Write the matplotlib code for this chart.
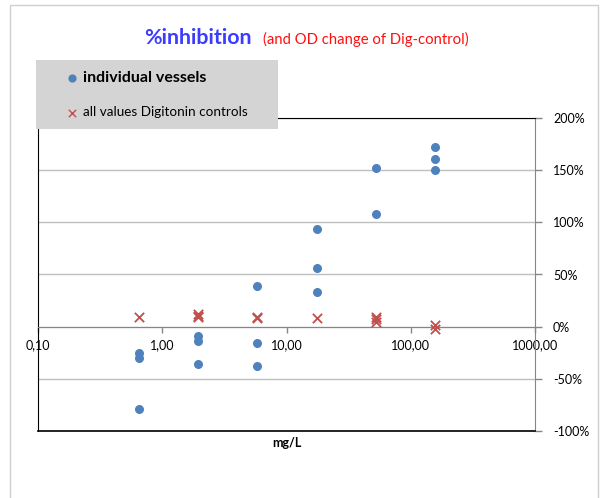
import matplotlib
matplotlib.use("Agg")
import matplotlib.pyplot as plt
from matplotlib.patches import Rectangle
from matplotlib.ticker import FixedLocator, FuncFormatter, NullLocator

plt.rcParams['font.family'] = ['Lato', 'DejaVu Sans']

# individual vessels: concentration (mg/L) and %inhibition
vessel_conc = [0.65, 0.65, 0.65, 1.94, 1.94, 1.94, 5.83, 5.83, 5.83,
               17.5, 17.5, 17.5, 52.5, 52.5, 157.5, 157.5, 157.5]
vessel_inhib = [-0.25, -0.30, -0.79, -0.09, -0.14, -0.36, 0.39, -0.16, -0.375,
                0.94, 0.56, 0.33, 1.52, 1.08, 1.72, 1.61, 1.50]

# Digitonin controls: OD change
ctrl_conc = [0.65, 1.94, 1.94, 1.94, 5.83, 5.83, 17.5, 52.5, 52.5, 52.5, 157.5, 157.5]
ctrl_od = [0.096, 0.12, 0.105, 0.09, 0.095, 0.085, 0.08, 0.095, 0.07, 0.045, 0.015, -0.02]

x_ticks = [0.1, 1, 10, 100, 1000]
y_ticks = [-1.0, -0.5, 0.0, 0.5, 1.0, 1.5, 2.0]

blue = "#4f81bd"
red = "#c0504d"
axis_gray = "#868686"
grid_gray = "#bfbfbf"

fig = plt.figure(figsize=(6.06, 4.98), dpi=100)
W, H = 606, 498

# chart area border
fig.patches.append(Rectangle((10 / W, -0.01), 588 / W, (498 - 5) / H + 0.01,
                             transform=fig.transFigure, fill=False,
                             edgecolor="#cfcfcf", linewidth=1.0))

ax = fig.add_axes([38 / W, 1 - 431 / H, (535 - 38) / W, (431 - 118) / H])

ax.scatter(vessel_conc, vessel_inhib, s=30, color=blue, zorder=4,
           label="individual vessels")
ax.scatter(ctrl_conc, ctrl_od, s=45, marker="x", color=red, linewidths=1.3,
           zorder=4, label="all values Digitonin controls")

ax.set_xscale("log")
ax.set_xlim(0.1, 1000)
ax.set_ylim(-1.0, 2.0)
ax.xaxis.set_major_locator(FixedLocator(x_ticks))
ax.xaxis.set_minor_locator(NullLocator())
ax.xaxis.set_major_formatter(FuncFormatter(lambda v, p: f"{v:.2f}".replace(".", ",")))
ax.yaxis.set_major_locator(FixedLocator(y_ticks))
ax.yaxis.set_major_formatter(FuncFormatter(lambda v, p: f"{int(round(v * 100))}%"))

ax.yaxis.tick_right()
ax.tick_params(axis="y", direction="out", length=5, width=1, color=axis_gray,
               pad=8, labelsize=9)
ax.tick_params(axis="x", direction="out", length=4, width=1, color=axis_gray,
               pad=5, labelsize=9)

ax.grid(axis="y", color=grid_gray, linewidth=1.0, zorder=1)
ax.set_axisbelow(True)

ax.spines["bottom"].set_position(("data", 0))
ax.spines["bottom"].set_color(axis_gray)
ax.spines["right"].set_color(axis_gray)
ax.spines["top"].set_color("black")
ax.spines["left"].set_color("black")
ax.axhline(-1.0, color="black", linewidth=1.2, clip_on=False, zorder=3)

ax.set_xlabel("mg/L", fontsize=9, fontweight="bold")
ax.xaxis.set_label_coords(0.5, -0.02)

leg = ax.legend(loc="upper left", bbox_to_anchor=(36 / W, 1 - 128 / H, 242 / W, 68 / H),
                bbox_transform=fig.transFigure, mode="expand", borderaxespad=0,
                fontsize=10, frameon=True, fancybox=False, facecolor="#d4d4d4",
                edgecolor="none", framealpha=1, borderpad=0.78, labelspacing=1.55,
                handlelength=3.65, handletextpad=-1.05, scatterpoints=1)
txts = leg.get_texts()
txts[0].set_fontweight("bold")
txts[0].set_fontsize(11.5)
txts[1].set_fontsize(9.7)
handles = leg.legend_handles
handles[0].set_sizes([24])
handles[1].set_sizes([28])
handles[1].set_linewidths([1.0])

fig.text(252 / W, 1 - 44 / H, "%inhibition", color="#3c3cff", fontsize=15.4,
         fontweight="bold", ha="right", va="baseline")
fig.text(263 / W, 1 - 44 / H, "(and OD change of Dig-control)", color="#ff1010",
         fontsize=10.7, ha="left", va="baseline")

fig.savefig("out.png", dpi=100)
